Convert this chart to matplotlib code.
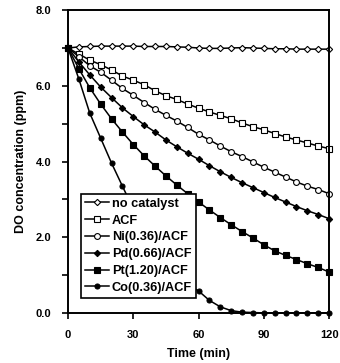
import numpy as np
import matplotlib
matplotlib.use('Agg')
from matplotlib import pyplot as plt

plt.rcParams['font.family'] = ['Liberation Sans', 'DejaVu Sans']
plt.rcParams['font.weight'] = 'bold'

time_min = list(range(0, 125, 5))

no_catalyst = [7.00, 7.03, 7.04, 7.05, 7.05, 7.05, 7.05, 7.04, 7.04, 7.04, 7.03, 7.02, 7.00,
               6.99, 6.99, 7.00, 7.01, 7.00, 6.99, 6.98, 6.98, 6.97, 6.97, 6.97, 6.97]
acf = [7.00, 6.84, 6.68, 6.56, 6.42, 6.26, 6.15, 6.03, 5.87, 5.74, 5.64, 5.52, 5.41,
       5.31, 5.22, 5.13, 5.02, 4.92, 4.84, 4.74, 4.65, 4.57, 4.49, 4.41, 4.34]
ni_acf = [7.00, 6.77, 6.53, 6.36, 6.15, 5.93, 5.75, 5.56, 5.38, 5.22, 5.07, 4.90, 4.72,
          4.57, 4.41, 4.26, 4.13, 3.99, 3.85, 3.72, 3.59, 3.46, 3.35, 3.26, 3.15]
pd_acf = [7.00, 6.63, 6.29, 5.97, 5.69, 5.42, 5.19, 4.97, 4.78, 4.57, 4.39, 4.22, 4.06,
          3.89, 3.73, 3.58, 3.44, 3.31, 3.18, 3.05, 2.93, 2.81, 2.70, 2.60, 2.49]
pt_acf = [7.00, 6.45, 5.95, 5.52, 5.13, 4.78, 4.45, 4.15, 3.88, 3.62, 3.38, 3.15, 2.93,
          2.72, 2.52, 2.33, 2.15, 1.98, 1.80, 1.64, 1.52, 1.41, 1.30, 1.20, 1.08]
co_acf = [7.00, 6.18, 5.28, 4.62, 3.96, 3.35, 2.75, 2.20, 1.72, 1.30, 0.98, 0.75, 0.58,
          0.33, 0.16, 0.06, 0.02, 0.01, 0.00, 0.00, 0.00, 0.00, 0.00, 0.00, 0.00]

series = [
    ('no catalyst', no_catalyst, 'D', 'white', 3.2),
    ('ACF', acf, 's', 'white', 4.2),
    ('Ni(0.36)/ACF', ni_acf, 'o', 'white', 4.2),
    ('Pd(0.66)/ACF', pd_acf, 'D', 'black', 3.2),
    ('Pt(1.20)/ACF', pt_acf, 's', 'black', 4.2),
    ('Co(0.36)/ACF', co_acf, 'o', 'black', 3.6),
]

fig = plt.figure(figsize=(3.4, 3.63), dpi=100)
ax = fig.add_axes([0.2, 0.138, 0.768, 0.834])

for name, vals, mk, fc, ms in series:
    ax.plot(time_min, vals, color='black', lw=1.1, marker=mk, markerfacecolor=fc,
            markeredgecolor='black', markeredgewidth=0.8, markersize=ms, label=name,
            clip_on=False)

ax.set_xlim(0, 120)
ax.set_ylim(0, 8)
ax.set_xticks([0, 30, 60, 90, 120])
ax.set_yticks([0, 2, 4, 6, 8])
ax.set_yticks([1, 3, 5, 7], minor=True)
ax.set_yticklabels(['0.0', '2.0', '4.0', '6.0', '8.0'])
ax.tick_params(axis='both', which='major', direction='out', length=4, width=1.2,
               labelsize=8, pad=8)
ax.tick_params(axis='y', which='minor', direction='out', length=4, width=1.2)
for s in ax.spines.values():
    s.set_linewidth(1.4)

ax.set_xlabel('Time (min)', fontsize=9, fontweight='bold', labelpad=6)
ax.set_ylabel('DO concentration (ppm)', fontsize=9, fontweight='bold', labelpad=6)

leg = ax.legend(loc='lower left', bbox_to_anchor=(0.05, 0.05), fontsize=9.2,
                frameon=True, fancybox=False, edgecolor='black', framealpha=1,
                handlelength=1.9, handletextpad=0.2, borderpad=0.3,
                labelspacing=0.38, borderaxespad=0)
leg.get_frame().set_linewidth(1.2)
leg.set_zorder(5)

plt.savefig('out.png', dpi=100)
